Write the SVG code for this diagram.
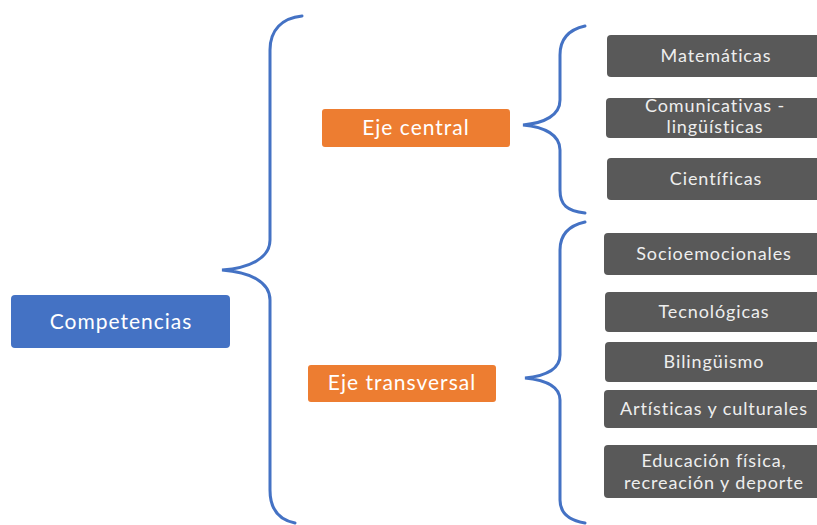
<svg xmlns="http://www.w3.org/2000/svg" width="817" height="525" viewBox="0 0 817 525">
<style>
.brace{fill:none;stroke:#4472C4;stroke-width:3;stroke-linecap:round}
.blue{fill:#4472C4}
.orange{fill:#ED7D31}
.gray{fill:#595959}
text{font-family:Lato,"Open Sans","Liberation Sans",sans-serif;text-anchor:middle}
.tw{fill:#ffffff;font-size:21px;letter-spacing:1px}
.tg{fill:#eeeeee;font-size:18px;letter-spacing:0.9px}
</style>
<rect width="817" height="525" fill="#ffffff"/>
<g id="connectors">
<path class="brace" d="M302,16 C282,18 270,30 270,50 L270,240 C270,258 250,268 222,270 C250,272 270,282 270,300 L270,490 C270,510 280,520 295,523"/>
<path class="brace" d="M585,26 C567,30 560,40 560,55 L560,100 C560,115 545,123 523,125 C545,127 560,135 560,150 L560,190 C560,205 567,211 585,213"/>
<path class="brace" d="M585,222 C567,226 560,236 560,250 L560,355 C560,370 545,376 525,378 C545,380 560,386 560,400 L560,500 C560,512 567,520 585,523"/>
</g>
<g id="competencias"><rect class="blue" x="11" y="295" width="219" height="53" rx="4"/><text class="tw" x="121" y="329">Competencias</text></g>
<g id="eje-central"><rect class="orange" x="322" y="109" width="188" height="38" rx="3"/><text class="tw" x="416" y="135">Eje central</text></g>
<g id="eje-transversal"><rect class="orange" x="308" y="365" width="188" height="37" rx="3"/><text class="tw" x="402" y="390">Eje transversal</text></g>
<g id="matematicas"><rect class="gray" x="607" y="35" width="217" height="42" rx="4"/><text class="tg" x="716" y="62">Matemáticas</text></g>
<g id="comunicativas"><rect class="gray" x="606" y="98" width="218" height="40" rx="4"/><text class="tg" x="715" y="112">Comunicativas -</text><text class="tg" x="715" y="133">lingüísticas</text></g>
<g id="cientificas"><rect class="gray" x="607" y="158" width="217" height="42" rx="4"/><text class="tg" x="716" y="185">Científicas</text></g>
<g id="socioemocionales"><rect class="gray" x="604" y="233" width="220" height="42" rx="4"/><text class="tg" x="714" y="260">Socioemocionales</text></g>
<g id="tecnologicas"><rect class="gray" x="605" y="292" width="219" height="40" rx="4"/><text class="tg" x="714" y="318">Tecnológicas</text></g>
<g id="bilinguismo"><rect class="gray" x="605" y="342" width="219" height="40" rx="4"/><text class="tg" x="714" y="368">Bilingüismo</text></g>
<g id="artisticas"><rect class="gray" x="604" y="390" width="220" height="38" rx="4"/><text class="tg" x="714" y="415">Artísticas y culturales</text></g>
<g id="educacion"><rect class="gray" x="604" y="445" width="220" height="53" rx="4"/><text class="tg" x="714" y="467">Educación física,</text><text class="tg" x="714" y="489">recreación y deporte</text></g>
</svg>
